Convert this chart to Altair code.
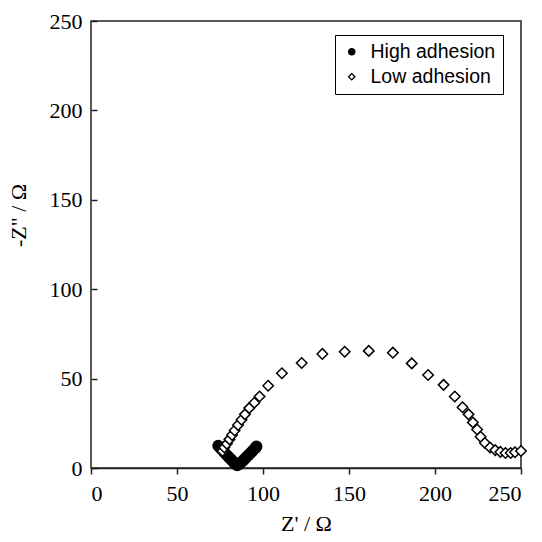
import altair as alt
import pandas as pd

# Nyquist data (Z' real part, -Z'' imaginary part), ohms
high_zr = [74.0, 75.2, 76.5, 77.7, 79.0, 80.3, 81.6, 82.8, 83.9, 85.0,
           86.2, 87.5, 88.8, 90.0, 91.3, 92.6, 94.0, 95.4, 96.2]
high_zi = [12.5, 11.2, 9.9, 8.6, 7.2, 5.9, 4.6, 3.4, 2.4, 1.6,
           2.2, 3.3, 4.5, 5.7, 7.0, 8.3, 9.6, 11.0, 12.0]

low_zr = [76.5, 77.5, 79.0, 80.5, 82.0, 83.5, 85.5, 87.5, 89.5, 92.0,
          95.0, 98.0, 103.0, 111.0, 122.5, 134.5, 147.5, 161.5, 175.5,
          186.5, 196.0, 205.0, 211.5, 216.0, 219.5, 222.0, 224.5, 226.5,
          229.0, 232.0, 235.0, 238.0, 241.0, 244.0, 246.5, 250.0]
low_zi = [9.5, 11.5, 13.5, 16.0, 18.5, 21.0, 24.0, 27.0, 30.0, 33.5,
          36.5, 40.0, 46.0, 53.0, 58.7, 63.8, 65.0, 65.5, 64.5,
          58.5, 52.0, 46.5, 40.0, 34.0, 30.0, 25.5, 21.5, 17.5,
          14.0, 11.5, 10.0, 9.0, 8.4, 8.4, 8.8, 9.5]

series = ["High adhesion", "Low adhesion"]
x_tick_values = [0, 50, 100, 150, 200, 250]
y_tick_values = [0, 50, 100, 150, 200, 250]

SERIF = "Liberation Serif, Times New Roman, serif"
SANS = "Liberation Sans, Arial, sans-serif"

df = pd.concat([
    pd.DataFrame({"zr": high_zr, "zi": high_zi, "series": series[0]}),
    pd.DataFrame({"zr": low_zr, "zi": low_zi, "series": series[1]}),
], ignore_index=True)
df["idx"] = range(len(df))

x_scale = alt.Scale(domain=[0, 250], nice=False, zero=False)
y_scale = alt.Scale(domain=[0, 250], nice=False, zero=False)

legend = alt.Legend(
    title=None, orient="none", legendX=244, legendY=14,
    strokeColor="black", fillColor="white", padding=7,
    labelFont=SANS, labelFontSize=19.5, labelColor="black",
    labelOffset=9, symbolSize=40, symbolStrokeColor="black",
    symbolStrokeWidth=1.3, rowPadding=4, offset=0,
)

chart = alt.Chart(df).mark_point(
    filled=True, stroke="black", strokeWidth=1.5, size=110, opacity=1
).encode(
    x=alt.X("zr:Q", scale=x_scale, axis=alt.Axis(
        values=x_tick_values, title="Z' / Ω", tickSize=6, labelPadding=9,
        labelFont=SERIF, titleFont=SERIF,
        titleY=62, titleBaseline="alphabetic")),
    # the left axis is shifted 6px into the plot so its ticks point inward;
    # the frame line itself comes from the view stroke
    y=alt.Y("zi:Q", scale=y_scale, axis=alt.Axis(
        values=y_tick_values, title='-Z" / Ω', domain=False, offset=-6,
        tickSize=6, labelPadding=9, labelFont=SERIF, titleFont=SERIF,
        titleX=-79, titleY=194, titleBaseline="middle")),
    shape=alt.Shape("series:N", scale=alt.Scale(domain=series, range=["circle", "diamond"]), legend=legend),
    fill=alt.Fill("series:N", scale=alt.Scale(domain=series, range=["black", "white"]), legend=legend),
    stroke=alt.Stroke("series:N", scale=alt.Scale(domain=series, range=["black", "black"]), legend=legend),
    order=alt.Order("idx:Q"),
).properties(
    width=430, height=447,
    autosize=alt.AutoSizeParams(type="none"),
    padding={"left": 91, "top": 21, "right": 21, "bottom": 74},
    background="white",
).configure_view(
    stroke="#222", strokeWidth=1.5
).configure_axis(
    domainColor="#222", domainWidth=1.5, tickColor="#222", tickWidth=1.5,
    grid=False, labelFont=SERIF, labelFontSize=22,
    labelColor="black", titleFont=SERIF, titleFontSize=22,
    titleFontWeight="normal", titleColor="black",
)

chart.save("out.html", embed_options={"renderer": "svg", "actions": False})
